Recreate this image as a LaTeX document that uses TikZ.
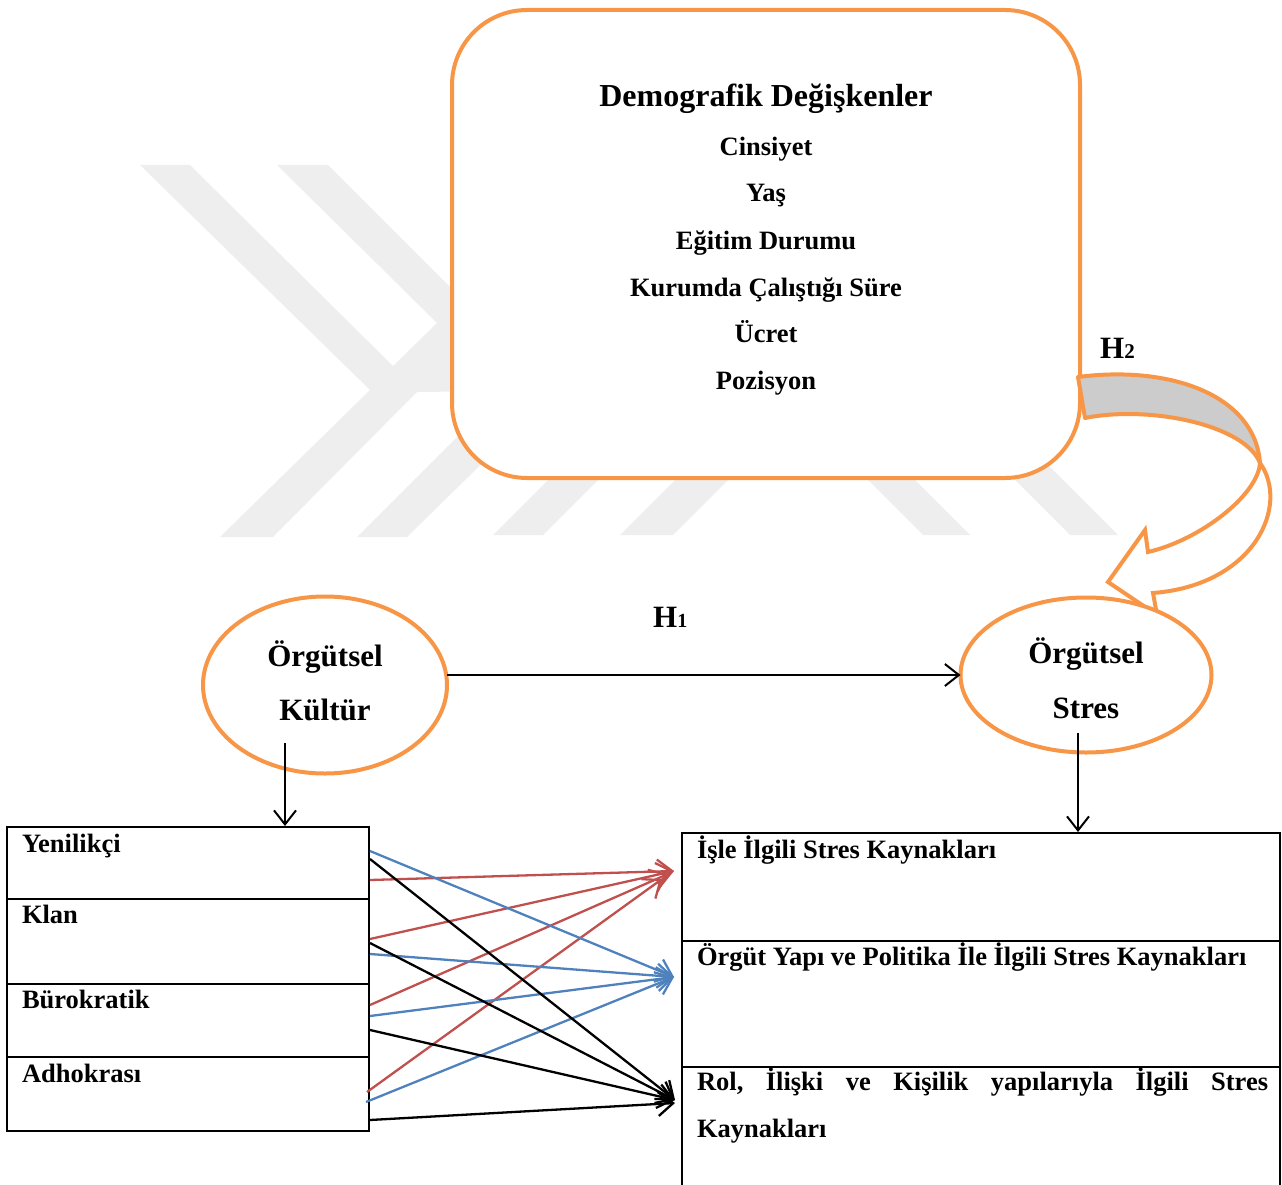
\documentclass[tikz,border=0pt]{standalone}
\usepackage{fontspec}
\setmainfont{Liberation Serif}
\usetikzlibrary{arrows.meta,shapes.geometric}
\definecolor{accent}{HTML}{F79646}
\definecolor{redc}{HTML}{C0504D}
\definecolor{bluec}{HTML}{4F81BD}
\definecolor{bandgray}{HTML}{CCCCCC}
\definecolor{wmark}{HTML}{EEEEEE}

\begin{document}
\begin{tikzpicture}[x=1pt,y=-1pt,
  lbl/.style={inner sep=0pt, outer sep=0pt, font=\bfseries\fontsize{26.5}{30}\selectfont},
  big/.style={inner sep=0pt, outer sep=0pt, font=\bfseries\fontsize{31}{34}\selectfont},
  head/.style={inner sep=0pt, outer sep=0pt, font=\bfseries\fontsize{32}{36}\selectfont},
  cellL/.style={draw, line width=2.5pt, anchor=north west, minimum width=362pt, inner sep=0pt, outer sep=0pt},
  cellR/.style={draw, line width=2.5pt, anchor=north west, minimum width=598pt, inner sep=0pt, outer sep=0pt},
  oval/.style={ellipse, draw=accent, line width=4pt, fill=white, inner sep=0pt, outer sep=0pt},
  thinarrow/.style={line width=2pt, -{Straight Barb[length=14pt,width=22pt]}},
  link/.style={line width=2.3pt, -{Straight Barb[length=15pt,width=24pt]}},
]
\useasboundingbox (0,0) rectangle (1282,1185);
\clip (0,0) rectangle (1282,1185);

% faint background logo
\fill[wmark] (140,165) -- (190,165) -- (393,366) -- (437,323) -- (277,165) -- (328,165)
  -- (555,392) -- (407,537) -- (357,537) -- (503,391) -- (417,392) -- (273,537)
  -- (220,537) -- (370,390) -- cycle;
\fill[wmark] (493,535) -- (543,535) -- (678,400) -- (628,400) -- cycle;
\fill[wmark] (620,535) -- (673,535) -- (808,400) -- (755,400) -- cycle;
\fill[wmark] (923,535) -- (970,535) -- (835,400) -- (788,400) -- cycle;
\fill[wmark] (1070,535) -- (1118,535) -- (983,400) -- (935,400) -- cycle;

% demographic variables box
\node[draw=accent, line width=4pt, fill=white, rounded corners=75pt, anchor=north west,
      minimum width=628pt, minimum height=468pt, inner sep=0pt, outer sep=0pt] (demo) at (452,10) {};
\node[head, anchor=base] (dtitle) at (766,107) {Demografik Değişkenler};
\node[lbl, anchor=base] (d1) at (766,156) {Cinsiyet};
\node[lbl, anchor=base] (d2) at (766,202) {Yaş};
\node[lbl, anchor=base] (d3) at (766,249) {Eğitim Durumu};
\node[lbl, anchor=base] (d4) at (766,296) {Kurumda Çalıştığı Süre};
\node[lbl, anchor=base] (d5) at (766,342) {Ücret};
\node[lbl, anchor=base] (d6) at (766,389) {Pozisyon};

% curved block arrow H2
\filldraw[fill=bandgray, draw=accent, line width=4pt, line join=round]
  (1078,377) .. controls (1170,365) and (1255,395) .. (1260,463)
  .. controls (1245,425) and (1150,405) .. (1085,418) -- cycle;
\filldraw[fill=white, draw=accent, line width=4pt]
  (1260,463) .. controls (1290,505) and (1255,585) .. (1153,593)
  -- (1157,615) -- (1108,582) -- (1145,530) -- (1148,552)
  .. controls (1200,540) and (1258,495) .. (1260,463) -- cycle;
\node[inner sep=0pt, anchor=base west, font=\bfseries] (h2) at (1100,358)
  {\fontsize{31}{34}\selectfont H\fontsize{21}{24}\selectfont 2};

% the two constructs
\node[oval, minimum width=244pt, minimum height=177pt] (kultur) at (325,685) {};
\node[big, anchor=base] (k1) at (325,666) {Örgütsel};
\node[big, anchor=base] (k2) at (325,720) {Kültür};
\node[oval, minimum width=251pt, minimum height=155pt] (stres) at (1086,675) {};
\node[big, anchor=base] (s1) at (1086,663) {Örgütsel};
\node[big, anchor=base] (s2) at (1086,718) {Stres};

\node[inner sep=0pt, anchor=base west, font=\bfseries] (h1) at (653,627)
  {\fontsize{31}{34}\selectfont H\fontsize{20}{24}\selectfont 1};
\draw[thinarrow] (kultur.east |- stres.west) -- (stres.west);

% culture types
\node[cellL, minimum height=72pt] (yen) at (7,827) {};
\node[cellL, minimum height=85pt] (klan) at (7,899) {};
\node[cellL, minimum height=73pt] (buro) at (7,984) {};
\node[cellL, minimum height=74pt] (adho) at (7,1057) {};
\node[lbl, anchor=base west] (tyen) at (22,852) {Yenilikçi};
\node[lbl, anchor=base west] (tklan) at (22,923) {Klan};
\node[lbl, anchor=base west] (tburo) at (22,1008) {Bürokratik};
\node[lbl, anchor=base west] (tadho) at (22,1082) {Adhokrası};

% stress sources
\node[cellR, minimum height=108pt] (isle) at (682,833) {};
\node[cellR, minimum height=126pt] (orgut) at (682,941) {};
\node[cellR, minimum height=160pt] (rol) at (682,1067) {};
\node[lbl, anchor=base west] (tisle) at (697,858) {İşle İlgili Stres Kaynakları};
\node[lbl, anchor=base west] (torgut) at (697,965) {Örgüt Yapı ve Politika İle İlgili Stres Kaynakları};
\node[lbl, anchor=base west] (trol) at (697,1090)
  {\hbox to 571pt{Rol,\hfill İlişki\hfill ve\hfill Kişilik\hfill yapılarıyla\hfill İlgili\hfill Stres}};
\node[lbl, anchor=base west] (trol2) at (697,1137) {Kaynakları};

% vertical arrows from the constructs
\coordinate (kdown) at (285,743);
\coordinate (kend) at (285,826);
\coordinate (sdown) at (1078,733);
\coordinate (send) at (1078,832);
\draw[thinarrow] (kdown) -- (kend);
\draw[thinarrow] (sdown) -- (send);

% link end points
\coordinate (tipR1) at (674,871);
\coordinate (tipR2) at (668,874);
\coordinate (tipR3) at (662,879);
\coordinate (tipB) at (674,977);
\coordinate (tipK1) at (675,1100);
\coordinate (tipK2) at (675,1103);

\coordinate (yR) at (370,880);
\coordinate (yB) at (370,851);
\coordinate (yK) at (370,859);
\coordinate (kR) at (370,939);
\coordinate (kB) at (370,954);
\coordinate (kK) at (370,943);
\coordinate (bR) at (370,1005);
\coordinate (bB) at (370,1016);
\coordinate (bK) at (370,1030);
\coordinate (aR) at (367,1092);
\coordinate (aB) at (366,1102);
\coordinate (aK) at (370,1120);

\draw[link, redc] (yR) -- (tipR1);
\draw[link, redc] (kR) -- (tipR1);
\draw[link, redc] (bR) -- (tipR2);
\draw[link, redc] (aR) -- (tipR3);

\draw[link, bluec] (yB) -- (tipB);
\draw[link, bluec] (kB) -- (tipB);
\draw[link, bluec] (bB) -- (tipB);
\draw[link, bluec] (aB) -- (tipB);

\draw[link, black] (yK) -- (tipK1);
\draw[link, black] (kK) -- (tipK1);
\draw[link, black] (bK) -- (tipK1);
\draw[link, black] (aK) -- (tipK2);
\end{tikzpicture}
\end{document}
